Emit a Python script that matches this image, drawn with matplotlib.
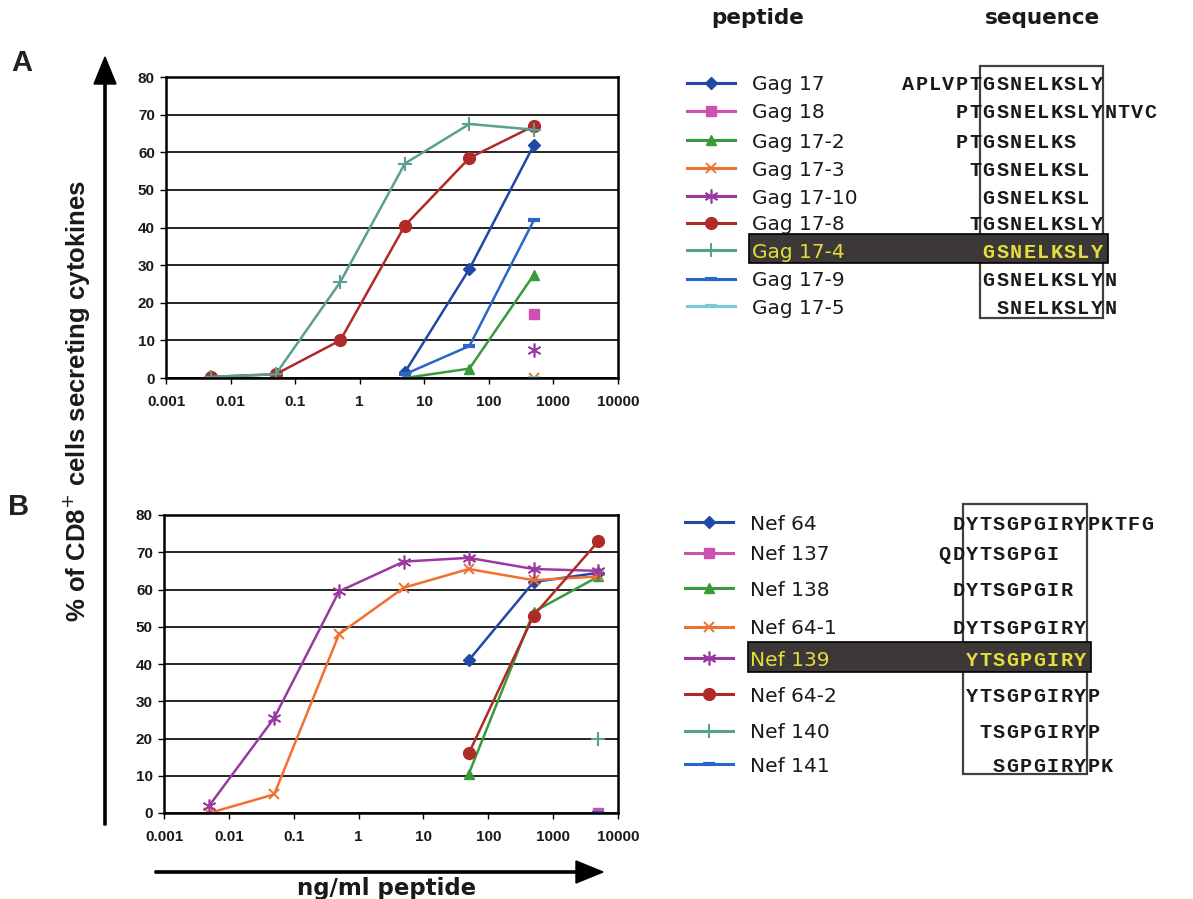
import matplotlib.pyplot as plt
import numpy as np
from matplotlib.patches import Rectangle

nan = np.nan

# ---- data: panel A (Gag peptides) ----
dose_gag = [0.005, 0.05, 0.5, 5, 50, 500]
gag_names = ['Gag 17', 'Gag 18', 'Gag 17-2', 'Gag 17-3', 'Gag 17-10',
             'Gag 17-8', 'Gag 17-4', 'Gag 17-9', 'Gag 17-5']
gag_17 = [nan, nan, nan, 1.5, 29, 62]
gag_18 = [nan, nan, nan, nan, nan, 17]
gag_17_2 = [nan, nan, nan, 0, 2.5, 27.5]
gag_17_3 = [nan, nan, nan, nan, nan, 0]
gag_17_10 = [nan, nan, nan, nan, nan, 7.5]
gag_17_8 = [0.3, 1, 10, 40.5, 58.5, 67]
gag_17_4 = [0.3, 1, 25.5, 57, 67.5, 66]
gag_17_9 = [nan, nan, nan, 1, 8.5, 42]
gag_17_5 = [nan, nan, nan, nan, nan, 0]
gag_values = [gag_17, gag_18, gag_17_2, gag_17_3, gag_17_10,
              gag_17_8, gag_17_4, gag_17_9, gag_17_5]
gag_seqs = ['APLVPTGSNELKSLY', 'PTGSNELKSLYNTVC', 'PTGSNELKS', 'TGSNELKSL',
            'GSNELKSL', 'TGSNELKSLY', 'GSNELKSLY', 'GSNELKSLYN', 'SNELKSLYN']
gag_offsets = [-6, -2, -2, -1, 0, -1, 0, 0, 1]

# ---- data: panel B (Nef peptides) ----
dose_nef = [0.005, 0.05, 0.5, 5, 50, 500, 5000]
nef_names = ['Nef 64', 'Nef 137', 'Nef 138', 'Nef 64-1', 'Nef 139',
             'Nef 64-2', 'Nef 140', 'Nef 141']
nef_64 = [nan, nan, nan, nan, 41, 62, 64.5]
nef_137 = [nan, nan, nan, nan, nan, nan, 0]
nef_138 = [nan, nan, nan, nan, 10.5, 54, 63.5]
nef_64_1 = [0, 5, 48, 60.5, 65.5, 62.5, 63.5]
nef_139 = [2, 25.5, 59.5, 67.5, 68.5, 65.5, 65]
nef_64_2 = [nan, nan, nan, nan, 16, 53, 73]
nef_140 = [nan, nan, nan, nan, nan, nan, 20]
nef_141 = [nan, nan, nan, nan, nan, nan, 0]
nef_values = [nef_64, nef_137, nef_138, nef_64_1, nef_139,
              nef_64_2, nef_140, nef_141]
nef_seqs = ['DYTSGPGIRYPKTFG', 'QDYTSGPGI', 'DYTSGPGIR', 'DYTSGPGIRY',
            'YTSGPGIRY', 'YTSGPGIRYP', 'TSGPGIRYP', 'SGPGIRYPK']
nef_offsets = [-1, -2, -1, -1, 0, 0, 1, 2]

# estilos (color, marcador, tamaño, grosor de borde)
styles_gag = [('#2048a8', 'D', 6, 1), ('#d050b0', 's', 6.5, 1),
              ('#3a9a3a', '^', 7, 1), ('#f07030', 'x', 7, 1.4),
              ('#9a3aa0', (6, 2, 0), 10, 1.2), ('#b02a2a', 'o', 8.5, 1),
              ('#5aa090', '+', 10, 1.5), ('#2a66c8', '_', 9, 3),
              ('#7cc8d8', '_', 9, 3)]
styles_nef = [styles_gag[i] for i in range(8)]

hilite_face = '#3d3838'
yellow = '#e4de3a'

W, H = 1193, 899
fig = plt.figure(figsize=(W / 100, H / 100), dpi=100)

# capa en coordenadas de pixel para textos y flechas
ov = fig.add_axes([0, 0, 1, 1])
ov.set_xlim(0, W)
ov.set_ylim(H, 0)
ov.axis('off')


def panel(rect, dose, values, styles):
    ax = fig.add_axes(rect)
    for vals, (c, m, ms, mew) in zip(values, styles):
        ax.plot(dose, vals, color=c, lw=1.8, marker=m, ms=ms, mew=mew,
                mec=c, mfc=c)
    ax.set_xscale('log')
    ax.set_xlim(0.001, 10000)
    ax.set_ylim(0, 80)
    ax.set_yticks(range(0, 81, 10))
    ax.set_xticks([0.001, 0.01, 0.1, 1, 10, 100, 1000, 10000])
    ax.set_xticklabels(['0.001', '0.01', '0.1', '1', '10', '100', '1000', '10000'])
    ax.minorticks_off()
    ax.yaxis.grid(True, color='black', lw=1.2)
    ax.set_axisbelow(True)
    for sp in ax.spines.values():
        sp.set_linewidth(1.8)
        sp.set_color('black')
    ax.tick_params(axis='x', length=4, pad=8, width=1)
    ax.tick_params(axis='y', length=4, pad=4, width=1)
    for lab in ax.get_xticklabels() + ax.get_yticklabels():
        lab.set_fontfamily('Liberation Sans')
        lab.set_fontweight('bold')
        lab.set_fontsize(11)
        lab.set_color('#1a1a1a')
    return ax


ax_a = panel([166 / W, 1 - 378 / H, 452 / W, 301 / H], dose_gag, gag_values, styles_gag)
ax_b = panel([164 / W, 1 - 813 / H, 454 / W, 298 / H], dose_nef, nef_values, styles_nef)


def legend_block(names, seqs, offsets, styles, rows, hi, core_x, box, hibox, x0):
    pitch = 13.5
    # recuadro de la secuencia central
    ov.add_patch(Rectangle((box[0], box[1]), box[2] - box[0], box[3] - box[1],
                           fill=False, ec='#404040', lw=1.6, zorder=2))
    ov.add_patch(Rectangle((hibox[0], hibox[1]), hibox[2] - hibox[0],
                           hibox[3] - hibox[1], fc=hilite_face, ec='black',
                           lw=1.2, zorder=3))
    for i, (name, seq, off, (c, m, ms, mew), y) in enumerate(
            zip(names, seqs, offsets, styles, rows)):
        ov.plot([x0, x0 + 48], [y, y], color=c, lw=2.2, zorder=4)
        ov.plot([x0 + 24], [y], color=c, marker=m, ms=ms, mew=mew, mec=c,
                mfc=c, zorder=4)
        col = yellow if i == hi else '#1a1a1a'
        ov.text(x0 + 65, y, name, fontsize=14.5, family='DejaVu Sans',
                color=col, va='center_baseline', ha='left', zorder=5)
        for k, ch in enumerate(seq):
            xc = core_x + (off + k + 0.5) * pitch
            ov.text(xc, y, ch, fontsize=14.5, family='Liberation Mono',
                    weight='bold', color=col, va='center_baseline',
                    ha='center', zorder=5)


legend_block(gag_names, gag_seqs, gag_offsets, styles_gag,
             [83, 111, 140, 168, 196, 223, 250, 279, 306], 6, 982,
             (980, 66, 1103, 318), (749, 234, 1108, 263), 687)
legend_block(nef_names, nef_seqs, nef_offsets, styles_nef,
             [522, 553, 588, 627, 658, 694, 731, 764], 4, 965,
             (963, 504, 1087, 774), (748, 642, 1091, 672), 685)

ov.text(758, 18, 'peptide', fontsize=15.5, weight='bold', family='DejaVu Sans',
        color='#1a1a1a', ha='center', va='center')
ov.text(1042, 18, 'sequence', fontsize=15.5, weight='bold', family='DejaVu Sans',
        color='#1a1a1a', ha='center', va='center')

# letras de panel
ov.text(22, 63, 'A', fontsize=21, weight='bold', family='Liberation Sans',
        ha='center', va='center', color='#222222')
ov.text(19, 507, 'B', fontsize=21, weight='bold', family='Liberation Sans',
        ha='center', va='center', color='#222222')

# flechas de ejes
ov.arrow(105, 825, 0, -768, width=2.2, head_width=22, head_length=27,
         length_includes_head=True, color='black')
ov.arrow(155, 872, 448, 0, width=2.2, head_width=22, head_length=27,
         length_includes_head=True, color='black')

ov.text(77, 401, '% of CD8$^{+}$ cells secreting cytokines', rotation=90,
        fontsize=18.5, weight='bold', family='Liberation Sans', ha='center',
        va='center', color='#1a1a1a')
ov.text(387, 888, 'ng/ml peptide', fontsize=16.5, weight='bold',
        family='DejaVu Sans', ha='center', va='center', color='#1a1a1a')

plt.savefig('out.png', dpi=100)
